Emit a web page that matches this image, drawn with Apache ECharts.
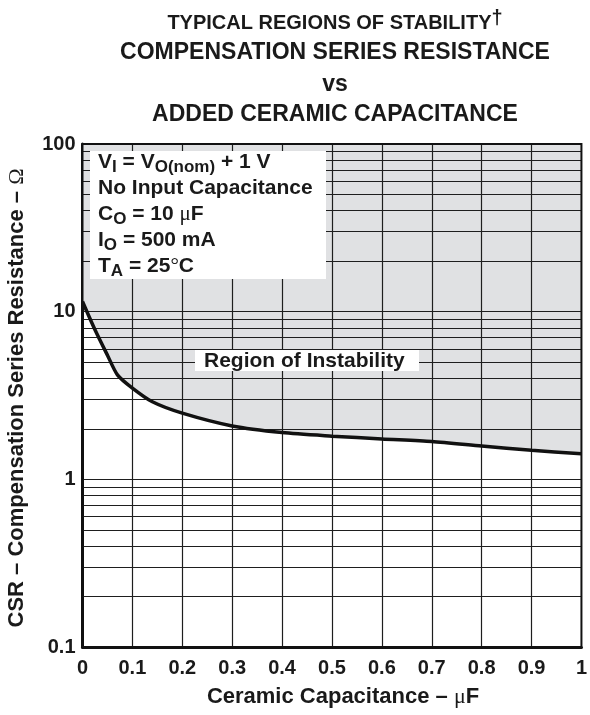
<!DOCTYPE html>
<html>
<head>
<meta charset="utf-8">
<script src="https://cdn.jsdelivr.net/npm/echarts@6.0.0/dist/echarts.min.js"></script>
<style>
  html, body { margin: 0; padding: 0; background: #ffffff; }
  #chart { width: 590px; height: 715px; }
</style>
</head>
<body>
<div id="chart"></div>
<script>
// Stability boundary: compensation series resistance (ohm) vs added ceramic capacitance (uF)
const capacitance = [0, 0.025, 0.05, 0.07, 0.1, 0.14, 0.2, 0.3, 0.4, 0.5, 0.6, 0.7, 0.8, 0.9, 1.0];
const csrBoundary = [11.5, 7.8, 5.5, 4.2, 3.5, 2.9, 2.48, 2.08, 1.9, 1.81, 1.74, 1.68, 1.58, 1.49, 1.42];

// Axis ticks and labels
const xTickValues = [0, 0.1, 0.2, 0.3, 0.4, 0.5, 0.6, 0.7, 0.8, 0.9, 1];
const xTickLabels = ['0', '0.1', '0.2', '0.3', '0.4', '0.5', '0.6', '0.7', '0.8', '0.9', '1'];
const yTickValues = [0.1, 1, 10, 100];
const yTickLabels = ['0.1', '1', '10', '100'];
// Log-paper rulings inside each decade
const yRulings = [0.2, 0.3, 0.4, 0.5, 0.6, 0.7, 0.8, 0.9, 1,
                  2, 3, 4, 5, 6, 7, 8, 9, 10,
                  20, 30, 40, 50, 60, 70, 80, 90];

const titleLines = ['COMPENSATION SERIES RESISTANCE', 'vs', 'ADDED CERAMIC CAPACITANCE'];
const titleTop = 'TYPICAL REGIONS OF STABILITY';
const regionLabel = 'Region of Instability';
const xAxisTitle = 'Ceramic Capacitance \u2013 ';
const yAxisTitle = 'CSR \u2013 Compensation Series Resistance \u2013 ';

const SANS = '"Liberation Sans", Arial, Helvetica, sans-serif';
const SERIF = '"Liberation Serif", "DejaVu Serif", serif';
const INK = '#1a1a1a';

const boundary = capacitance.map((c, i) => [c, csrBoundary[i]]);

const rulingData = xTickValues.slice(1, -1).map(v => ({ xAxis: v }))
  .concat(yRulings.map(v => ({ yAxis: v })));

const legendRich = {
  m: { fontFamily: SANS, fontWeight: 'bold', fontSize: 21, lineHeight: 22, fill: INK },
  s: { fontFamily: SANS, fontWeight: 'bold', fontSize: 17, lineHeight: 22, padding: [10, 0, 0, 0], fill: INK },
  g: { fontFamily: SERIF, fontWeight: 'normal', fontSize: 21, lineHeight: 22, fill: INK }
};
const legendLines = [
  '{m|V}{s|I}{m| = V}{s|O(nom)}{m| + 1 V}',
  '{m|No Input Capacitance}',
  '{m|C}{s|O}{m| = 10 }{g|\u03bc}{m|F}',
  '{m|I}{s|O}{m| = 500 mA}',
  '{m|T}{s|A}{m| = 25}{g|\u00b0}{m|C}'
];
const legendY = [162, 188, 214, 240, 266];

const chart = echarts.init(document.getElementById('chart'), null, { renderer: 'canvas' });

const graphics = [];
// Title block
graphics.push({
  type: 'text', x: 335, y: 23, z: 20,
  style: {
    text: '{t|' + titleTop + '}{d|\u2020}',
    align: 'center', verticalAlign: 'middle',
    rich: {
      t: { fontFamily: SANS, fontWeight: 'bold', fontSize: 20, lineHeight: 22, fill: INK },
      d: { fontFamily: SANS, fontWeight: 'bold', fontSize: 20, lineHeight: 22, padding: [0, 0, 10, 0], fill: INK }
    }
  }
});
[53, 85, 115].forEach((y, i) => {
  graphics.push({
    type: 'text', x: 335, y: y, z: 20,
    style: { text: titleLines[i], font: 'bold 23px ' + SANS, fill: INK, align: 'center', verticalAlign: 'middle' }
  });
});
// Conditions box
graphics.push({
  type: 'rect', z: 10,
  shape: { x: 90, y: 151, width: 236, height: 128 },
  style: { fill: '#ffffff' }
});
legendLines.forEach((txt, i) => {
  graphics.push({
    type: 'text', x: 98, y: legendY[i], z: 11,
    style: { text: txt, rich: legendRich, align: 'left', verticalAlign: 'middle' }
  });
});
// Region label
graphics.push({
  type: 'rect', z: 10,
  shape: { x: 195, y: 350, width: 224, height: 21 },
  style: { fill: '#ffffff' }
});
graphics.push({
  type: 'text', x: 204, y: 361, z: 11,
  style: { text: regionLabel, font: 'bold 21px ' + SANS, fill: INK, align: 'left', verticalAlign: 'middle' }
});
// Axis titles
graphics.push({
  type: 'text', x: 343, y: 697, z: 11,
  style: {
    text: '{m|' + xAxisTitle + '}{g|\u03bc}{m|F}',
    align: 'center', verticalAlign: 'middle',
    rich: {
      m: { fontFamily: SANS, fontWeight: 'bold', fontSize: 22, fill: INK },
      g: { fontFamily: SERIF, fontWeight: 'normal', fontSize: 22, fill: INK }
    }
  }
});
graphics.push({
  type: 'text', x: 17, y: 398, z: 11, rotation: Math.PI / 2,
  style: {
    text: '{m|' + yAxisTitle + '}{g|\u03a9}',
    align: 'center', verticalAlign: 'middle',
    rich: {
      m: { fontFamily: SANS, fontWeight: 'bold', fontSize: 22, fill: INK },
      g: { fontFamily: SERIF, fontWeight: 'normal', fontSize: 22, fill: INK }
    }
  }
});

chart.setOption({
  animation: false,
  backgroundColor: '#ffffff',
  grid: {
    left: 82.5, top: 144, right: 4.5, bottom: 68,
    show: true, z: 10,
    backgroundColor: 'transparent',
    borderColor: '#111111', borderWidth: 2
  },
  xAxis: {
    type: 'value', min: 0, max: 1, interval: 0.1,
    axisLine: { show: true, onZero: false, lineStyle: { color: '#111111', width: 3 } },
    axisTick: { show: false },
    splitLine: { show: false },
    axisLabel: {
      margin: 11,
      fontFamily: SANS, fontWeight: 'bold', fontSize: 20, color: INK,
      formatter: v => {
        const i = xTickValues.findIndex(t => Math.abs(t - v) < 1e-9);
        return i >= 0 ? xTickLabels[i] : '';
      }
    }
  },
  yAxis: {
    type: 'log', logBase: 10, min: 0.1, max: 100,
    axisLine: { show: true, lineStyle: { color: '#111111', width: 3 } },
    axisTick: { show: false },
    splitLine: { show: false },
    minorTick: { show: false },
    axisLabel: {
      margin: 7,
      fontFamily: SANS, fontWeight: 'bold', fontSize: 20, color: INK,
      formatter: v => {
        const i = yTickValues.findIndex(t => Math.abs(Math.log10(t) - Math.log10(v)) < 1e-6);
        return i >= 0 ? yTickLabels[i] : '';
      }
    }
  },
  graphic: graphics,
  series: [
    {
      // shaded region of instability above the boundary
      name: 'instability',
      type: 'line', z: 1,
      data: boundary,
      smooth: 0.25,
      symbol: 'none',
      silent: true,
      lineStyle: { width: 0, opacity: 0 },
      areaStyle: { color: '#e0e1e3', opacity: 1, origin: 'end' }
    },
    {
      // chart-paper rulings
      name: 'rulings',
      type: 'line', z: 2,
      data: [],
      silent: true,
      markLine: {
        z: 3,
        silent: true,
        symbol: ['none', 'none'],
        label: { show: false },
        lineStyle: { color: '#1e1e1e', width: 1.2, type: 'solid' },
        emphasis: { disabled: true },
        data: rulingData
      }
    },
    {
      name: 'boundary',
      type: 'line', z: 4,
      data: boundary,
      smooth: 0.25,
      symbol: 'none',
      silent: true,
      lineStyle: { color: '#111111', width: 3.5 }
    }
  ]
});
</script>
</body>
</html>
